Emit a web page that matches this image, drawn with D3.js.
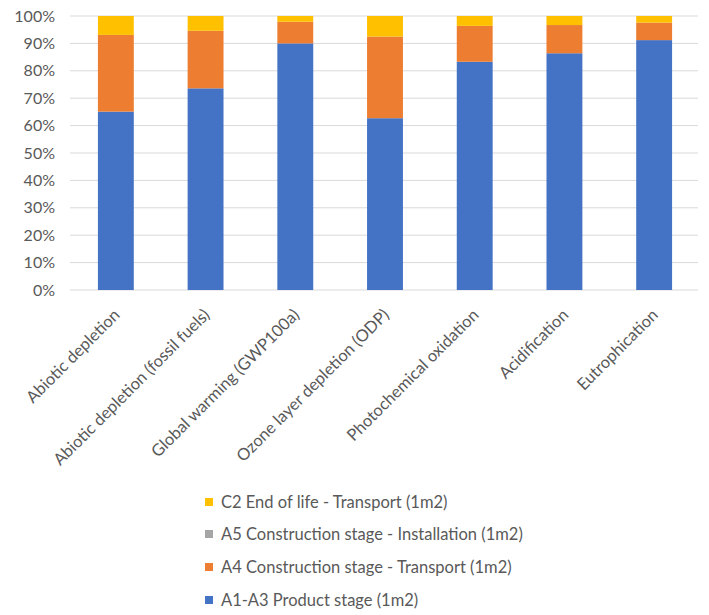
<!DOCTYPE html>
<html><head><meta charset="utf-8">
<script src="https://cdn.jsdelivr.net/npm/d3@7"></script>
<style>
html,body{margin:0;padding:0;background:#fff;}
svg{display:block;font-family:Lato,"Open Sans",sans-serif;}
</style></head>
<body><svg id="chart" width="709" height="615"></svg>
<script>
const categories = ["Abiotic depletion","Abiotic depletion (fossil fuels)","Global warming (GWP100a)","Ozone layer depletion (ODP)","Photochemical oxidation","Acidification","Eutrophication"];
const seriesNames = ["A1-A3 Product stage (1m2)","A4 Construction stage - Transport (1m2)","A5 Construction stage - Installation (1m2)","C2 End of life - Transport (1m2)"];
const a1a3 = [65.1, 73.6, 90.0, 62.7, 83.3, 86.4, 91.2];
const a4   = [28.0, 21.0, 7.9, 29.8, 13.1, 10.3, 6.4];
const a5   = [0, 0, 0, 0, 0, 0, 0];
const c2   = [6.9, 5.4, 2.1, 7.5, 3.6, 3.3, 2.4];
const yTicks = [0,0.1,0.2,0.3,0.4,0.5,0.6,0.7,0.8,0.9,1];
const colors = ["#4472C4","#ED7D31","#A5A5A5","#FFC000"];

const svg = d3.select("#chart");
const keys = seriesNames;
const rows = categories.map((c,i)=>({cat:c,[keys[0]]:a1a3[i],[keys[1]]:a4[i],[keys[2]]:a5[i],[keys[3]]:c2[i]}));
const stacked = d3.stack().keys(keys).offset(d3.stackOffsetExpand)(rows);

const x = d3.scaleBand().domain(categories).range([71,699]).paddingInner(0.6).paddingOuter(0.3);
const y = d3.scaleLinear().domain([0,1]).range([290,16]);
const color = d3.scaleOrdinal().domain(keys).range(colors);

// gridlines
svg.append("g").selectAll("line").data(yTicks).join("line")
  .attr("x1",70).attr("x2",698)
  .attr("y1",d=>y(d)).attr("y2",d=>y(d))
  .attr("stroke","#d9d9d9").attr("stroke-width",1);

// y axis labels
const yAxis = d3.axisLeft(y).tickValues(yTicks).tickFormat(d3.format(".0%")).tickSize(0).tickPadding(0);
const yg = svg.append("g").attr("transform","translate(55,0)").call(yAxis);
yg.select(".domain").remove();
yg.selectAll("text").attr("fill","#595959").style("font-size","16px").style("font-family","Lato,'Open Sans',sans-serif");

// bars
svg.append("g").selectAll("g").data(stacked).join("g")
  .attr("fill",d=>color(d.key))
  .selectAll("rect").data(d=>d).join("rect")
  .attr("x",d=>x(d.data.cat))
  .attr("width",x.bandwidth())
  .attr("y",d=>y(d[1]))
  .attr("height",d=>y(d[0])-y(d[1]));

// x labels
const xAxis = d3.axisBottom(x).tickSize(0).tickPadding(0);
const xg = svg.append("g").attr("transform","translate(0,290)").call(xAxis);
xg.select(".domain").remove();
xg.selectAll("text")
  .attr("fill","#595959")
  .style("font-size","16.5px").style("font-family","Lato,'Open Sans',sans-serif")
  .attr("text-anchor","end")
  .attr("dy","0")
  .attr("y",0)
  .attr("transform","translate(5,26) rotate(-45)");

// legend
const legendItems = [3,2,1,0];
const lg = svg.append("g").attr("transform","translate(205,0)");
const rowY = [502, 534, 567, 600];
legendItems.forEach((k,i)=>{
  const g = lg.append("g").attr("transform",`translate(0,${rowY[i]})`);
  g.append("rect").attr("x",0).attr("y",-4).attr("width",8).attr("height",8).attr("fill",colors[k]);
  g.append("text").attr("x",16).attr("y",0).attr("dy","0.35em")
    .attr("fill","#595959").style("font-size","16.5px").text(seriesNames[k]);
});
</script></body></html>
